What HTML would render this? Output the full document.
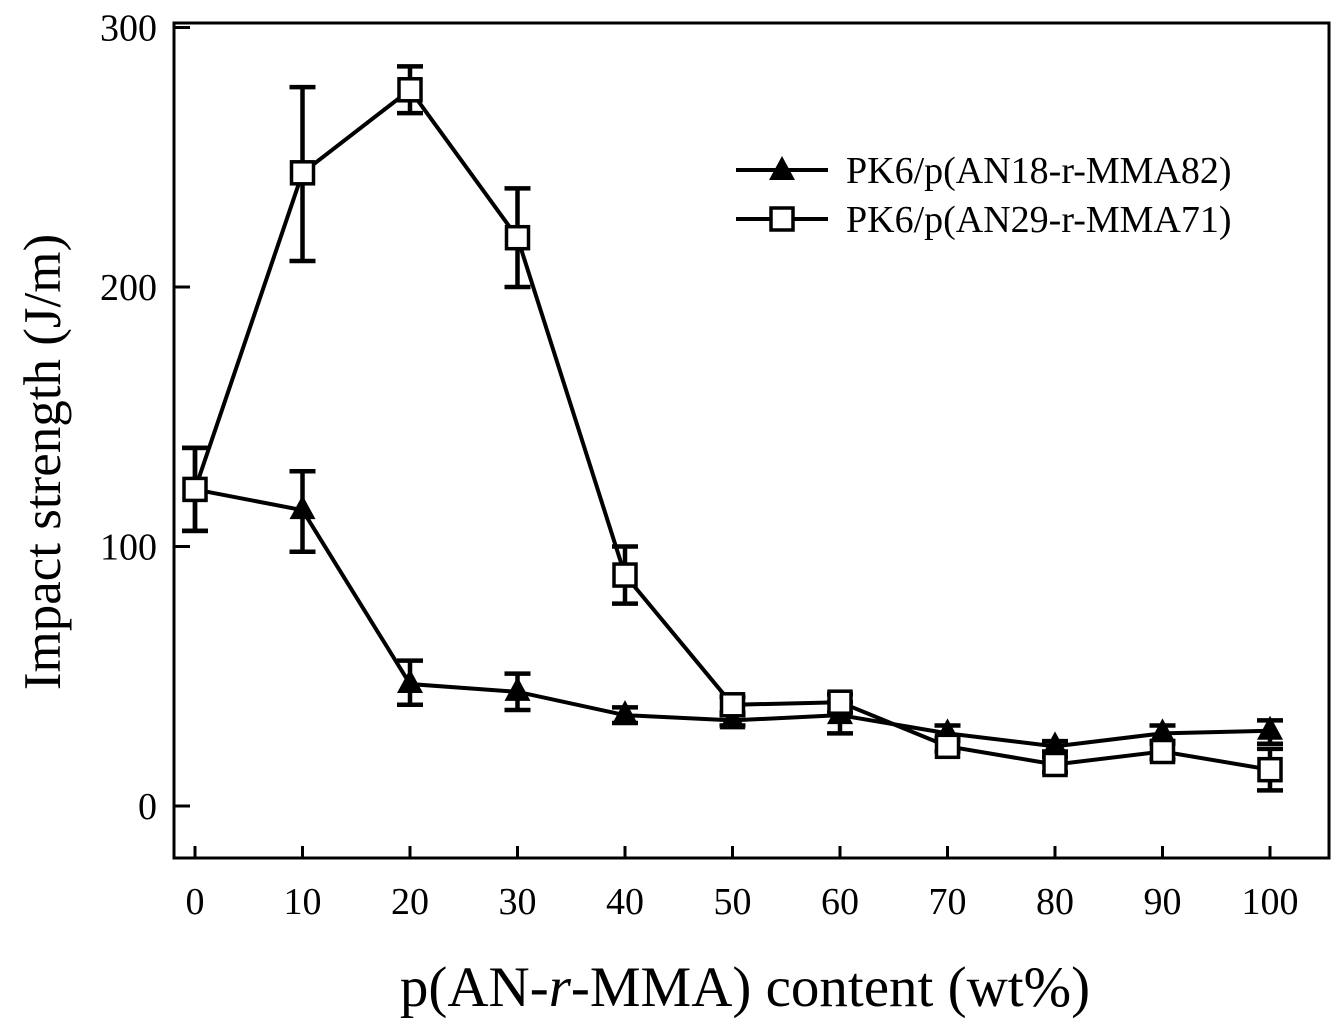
<!DOCTYPE html>
<html><head><meta charset="utf-8"><style>
html,body{margin:0;padding:0;background:#fff}
svg{display:block;font-family:"Liberation Serif",serif}
</style></head><body>
<svg id="chart" width="1339" height="1027" xmlns="http://www.w3.org/2000/svg">
<rect x="174" y="23" width="1155" height="835" fill="none" stroke="#000" stroke-width="3"/>
<g id="axes"></g>
<g id="series"></g>
<text x="745" y="1006" font-size="57" text-anchor="middle">p(AN-<tspan font-style="italic">r</tspan>-MMA) content (wt%)</text>
<text transform="translate(60,462) rotate(-90)" font-size="53" text-anchor="middle">Impact strength (J/m)</text>
<g>
<line x1="736" y1="170" x2="828" y2="170" stroke="#000" stroke-width="4"/>
<polygon points="782,156 795,180 769,180" fill="#000"/>
<text x="846" y="183" font-size="38">PK6/p(AN18-r-MMA82)</text>
<line x1="736" y1="219" x2="828" y2="219" stroke="#000" stroke-width="4"/>
<rect x="771" y="208" width="22" height="22" fill="#fff" stroke="#000" stroke-width="3.5"/>
<text x="846" y="232" font-size="38">PK6/p(AN29-r-MMA71)</text>
</g>
</svg>
<script>
const categories=[0,10,20,30,40,50,60,70,80,90,100];
const an18Values=[122,114,47,44,35,33,35,28,23,28,29];
const an18Low=[106,98,39,37,32,31,28,25,21,25,24];
const an18High=[138,129,56,51,38,35,40,31,25,31,33];
const an29Values=[122,244,276,219,89,39,40,23,16,21,14];
const an29Low=[106,210,267,200,78,36,36,21,13,18,6];
const an29High=[138,277,285,238,100,42,43,26,19,24,22];
const yTicks=[0,100,200,300];
const NS="http://www.w3.org/2000/svg";
function xs(v){return 195+v*10.75;}
function ys(v){return 806-v*2.595;}
function mk(tag,attrs,parent){const e=document.createElementNS(NS,tag);for(const k in attrs)e.setAttribute(k,attrs[k]);parent.appendChild(e);return e;}
const axes=document.getElementById('axes');
categories.forEach(c=>{
  const t=mk('line',{x1:xs(c),x2:xs(c),y1:858,y2:846,stroke:'#000','stroke-width':3},axes);
  
  
  const l=mk('text',{x:xs(c),y:914,'font-size':38,'text-anchor':'middle'},axes);
  l.textContent=c;
  
  
});
yTicks.forEach(v=>{
  const t=mk('line',{x1:174,x2:190,y1:ys(v),y2:ys(v),stroke:'#000','stroke-width':3},axes);
  
  
  const l=mk('text',{x:157,y:ys(v)+13,'font-size':38,'text-anchor':'end'},axes);
  l.textContent=v;
  
  
});
const g=document.getElementById('series');
function draw(vals,lo,hi,kind){
  const pl=mk('polyline',{points:categories.map((c,i)=>xs(c)+','+ys(vals[i])).join(' '),fill:'none',stroke:'#000','stroke-width':4},g);
  
  
  categories.forEach((c,i)=>{
    const x=xs(c);
    const e=mk('path',{d:`M${x},${ys(lo[i])}V${ys(hi[i])}M${x-13},${ys(lo[i])}H${x+13}M${x-13},${ys(hi[i])}H${x+13}`,stroke:'#000','stroke-width':4.5,fill:'none'},g);
    
    
    const y=ys(vals[i]);
    let m;
    if(kind==='an18'){m=mk('polygon',{points:`${x},${y-15} ${x+13},${y+9} ${x-13},${y+9}`,fill:'#000'},g);}
    else{m=mk('rect',{x:x-11,y:y-11,width:22,height:22,fill:'#fff',stroke:'#000','stroke-width':3.5},g);}
    
    
  });
}
draw(an18Values,an18Low,an18High,'an18');
draw(an29Values,an29Low,an29High,'an29');
</script>
</body></html>
